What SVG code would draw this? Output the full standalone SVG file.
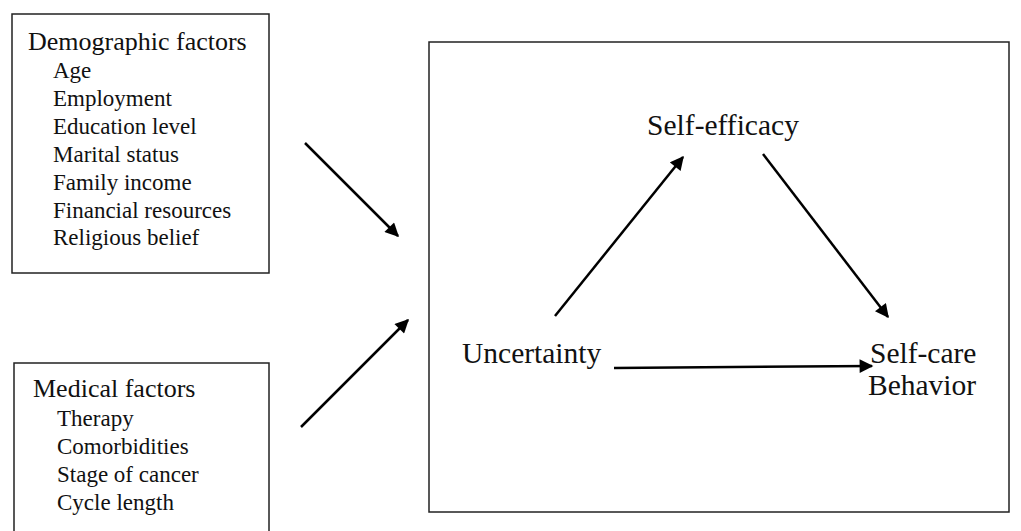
<svg xmlns="http://www.w3.org/2000/svg" width="1021" height="531" viewBox="0 0 1021 531">
<style>
.box{fill:#fff;stroke:#222;stroke-width:1.5}
.t{font-family:"Liberation Serif",serif;fill:#111}
.h{font-size:26px}
.i{font-size:23px}
.n{font-size:29.5px}
.c{stroke:#000;stroke-width:2.5;fill:none;marker-end:url(#ah)}
</style>
<defs>
<marker id="ah" viewBox="0 0 10 10" refX="9" refY="5" markerWidth="6" markerHeight="5.5" markerUnits="strokeWidth" orient="auto">
<path d="M0,0 L10,5 L0,10 Z" fill="#000"/>
</marker>
</defs>
<rect width="1021" height="531" fill="#fff"/>
<g id="demographic">
<rect class="box" x="12" y="14" width="257" height="259"/>
<text class="t h" x="28" y="50">Demographic factors</text>
<text class="t i" x="53" y="78">Age</text>
<text class="t i" x="53" y="106">Employment</text>
<text class="t i" x="53" y="134">Education level</text>
<text class="t i" x="53" y="162">Marital status</text>
<text class="t i" x="53" y="190">Family income</text>
<text class="t i" x="53" y="218">Financial resources</text>
<text class="t i" x="53" y="245">Religious belief</text>
</g>
<g id="medical">
<rect class="box" x="14" y="363" width="255" height="180"/>
<text class="t h" x="33" y="397">Medical factors</text>
<text class="t i" x="57" y="426">Therapy</text>
<text class="t i" x="57" y="454">Comorbidities</text>
<text class="t i" x="57" y="482">Stage of cancer</text>
<text class="t i" x="57" y="510">Cycle length</text>
</g>
<g id="model">
<rect class="box" x="429" y="42" width="580" height="470"/>
</g>
<g id="self-efficacy"><text class="t n" x="723" y="135" text-anchor="middle">Self-efficacy</text></g>
<g id="uncertainty"><text class="t n" x="462" y="363">Uncertainty</text></g>
<g id="self-care"><text class="t n" x="870" y="363">Self-care</text><text class="t n" x="868" y="395">Behavior</text></g>
<g id="connectors">
<line class="c" x1="305" y1="143" x2="398" y2="236"/>
<line class="c" x1="301" y1="427" x2="408" y2="320"/>
<line class="c" x1="555" y1="316" x2="683" y2="157"/>
<line class="c" x1="763" y1="154" x2="888" y2="317"/>
<line class="c" x1="614" y1="368" x2="872" y2="366"/>
</g>
</svg>
